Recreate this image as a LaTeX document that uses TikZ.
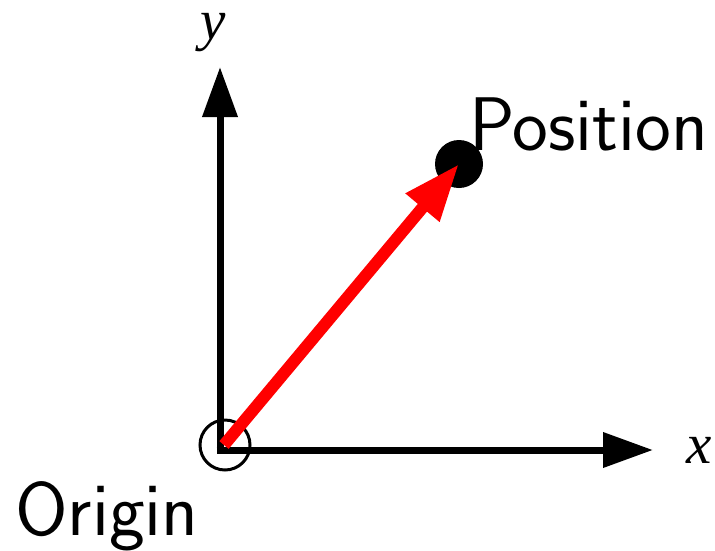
\documentclass[tikz,border=0pt]{standalone}
\usepackage{fontspec}
\newfontfamily\tmsfont{Liberation Serif}
\usetikzlibrary{arrows.meta}
\begin{document}
\begin{tikzpicture}[x=1pt,y=-1pt,
  axis/.style={line width=7pt,-{Triangle[length=50pt,width=34pt]}},
  vec/.style={line width=12pt,red,-{Triangle[length=57pt,width=41pt]}},
  lbl/.style={inner sep=0pt,anchor=base west,font=\sffamily\fontsize{76}{80}\selectfont},
  mlbl/.style={inner sep=0pt,anchor=base west,font=\tmsfont\itshape\fontsize{57}{60}\selectfont}]
\useasboundingbox (0,0) rectangle (715,550);
\coordinate (o) at (220,450);
\coordinate (ystart) at (220,453.5);
\coordinate (xstart) at (216.5,450);
\coordinate (yend) at (220,67);
\coordinate (xend) at (653,450);
\coordinate (vstart) at (224,445);
\node[circle,fill=black,minimum size=48pt,inner sep=0pt] (pos) at (459,164) {};
\node[circle,draw=black,line width=3pt,minimum size=50pt,inner sep=0pt] (orig) at (225,445) {};
\draw[axis] (ystart) -- (yend);
\draw[axis] (xstart) -- (xend);
\draw[vec] (vstart) -- (pos.center);
\node[lbl] (plabel) at (469,150) {Position};
\node[lbl] (olabel) at (15,535) {Origin};
\node[mlbl] (xlabel) at (686,463) {x};
\node[mlbl] (ylabel) at (200,39) {y};
\end{tikzpicture}
\end{document}
